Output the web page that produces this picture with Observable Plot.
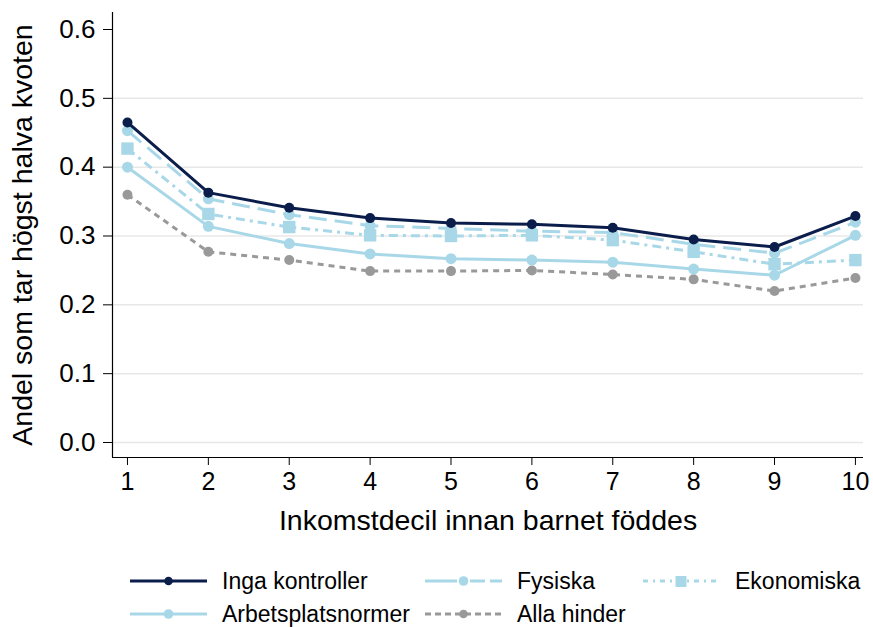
<!DOCTYPE html>
<html>
<head>
<meta charset="utf-8">
<script src="https://cdn.jsdelivr.net/npm/d3@7"></script>
<script src="https://cdn.jsdelivr.net/npm/@observablehq/plot@0.6"></script>
<style>
  body { margin: 0; background: #fff; font-family: "Liberation Sans", Arial, sans-serif; }
  #wrap { position: relative; width: 873px; height: 627px; }
  .leg { position: absolute; display: flex; align-items: center; font-size: 23px; color: #000; white-space: nowrap; }
  .leg svg { margin-right: 15px; }
</style>
</head>
<body>
<div id="wrap"><div id="chart"></div></div>
<script>
const deciles = [1, 2, 3, 4, 5, 6, 7, 8, 9, 10];
const ingaKontroller   = [0.465, 0.363, 0.341, 0.326, 0.319, 0.317, 0.312, 0.295, 0.284, 0.329];
const fysiska          = [0.453, 0.354, 0.331, 0.315, 0.311, 0.307, 0.305, 0.288, 0.275, 0.320];
const ekonomiska       = [0.427, 0.332, 0.313, 0.301, 0.300, 0.301, 0.294, 0.277, 0.259, 0.265];
const arbetsplatsnormer= [0.400, 0.314, 0.289, 0.274, 0.267, 0.265, 0.262, 0.252, 0.243, 0.301];
const allaHinder       = [0.360, 0.277, 0.265, 0.249, 0.249, 0.250, 0.244, 0.237, 0.220, 0.239];
const yTicks = [0, 0.1, 0.2, 0.3, 0.4, 0.5, 0.6];
const yTitle = "Andel som tar högst halva kvoten";
const xTitle = "Inkomstdecil innan barnet föddes";

const series = [
  {name: "Alla hinder", values: allaHinder, color: "#999999", dash: "6,5", symbol: "circle", r: 5},
  {name: "Arbetsplatsnormer", values: arbetsplatsnormer, color: "#a8d8e8", dash: null, symbol: "circle", r: 5.5},
  {name: "Ekonomiska", values: ekonomiska, color: "#a8d8e8", dash: "9,5,3,5", symbol: "square", r: 7},
  {name: "Fysiska", values: fysiska, color: "#a8d8e8", dash: "18,8", symbol: "circle", r: 5.5},
  {name: "Inga kontroller", values: ingaKontroller, color: "#0b1d4a", dash: null, symbol: "circle", r: 5}
];

const marks = [
  Plot.gridY(yTicks.slice(0, 6), {stroke: "#e8e8e8", strokeOpacity: 1, strokeWidth: 1.5}),
  Plot.ruleX([0.815], {stroke: "#000", strokeWidth: 1.2}),
  Plot.ruleY([-0.0218], {stroke: "#000", strokeWidth: 1.2}),
  Plot.axisY(yTicks, {tickFormat: d3.format(".1f"), fontSize: 26, tickSize: 9, tickPadding: 8, label: null, stroke: "#000"}),
  Plot.axisX(deciles, {tickFormat: d => String(d), fontSize: 25, tickSize: 8, tickPadding: 7, label: null}),
  Plot.text([yTitle], {frameAnchor: "left", rotate: -90, dx: -90, fontSize: 28.5, textAnchor: "middle", lineAnchor: "middle"}),
  Plot.text([xTitle], {frameAnchor: "bottom", dy: 63, fontSize: 28.5, textAnchor: "middle", lineAnchor: "middle"})
];
for (const s of series) {
  const data = deciles.map((d, i) => ({x: d, y: s.values[i]}));
  marks.push(Plot.line(data, {x: "x", y: "y", stroke: s.color, strokeWidth: 3, strokeDasharray: s.dash, strokeLinecap: "butt"}));
  marks.push(Plot.dot(data, {x: "x", y: "y", fill: s.color, r: s.r, symbol: s.symbol}));
}

const chart = Plot.plot({
  width: 873,
  height: 560,
  marginLeft: 112,
  marginRight: 10,
  marginTop: 12,
  marginBottom: 103,
  style: {fontFamily: "Liberation Sans, Arial, sans-serif", color: "#000", background: "#fff"},
  x: {domain: [0.815, 10.1]},
  y: {domain: [-0.0218, 0.6247]},
  marks
});
document.getElementById("chart").appendChild(chart);

// legend
const legendPos = {
  "Inga kontroller": [130, 581],
  "Fysiska": [425, 581],
  "Ekonomiska": [643, 581],
  "Arbetsplatsnormer": [130, 614],
  "Alla hinder": [425, 614]
};
const legendDash = {"Fysiska": "32,13,15,5", "Ekonomiska": "5,5,2,5", "Alla hinder": "6,4"};
const wrap = document.getElementById("wrap");
for (const s of series) {
  const [lx, ly] = legendPos[s.name];
  const div = document.createElement("div");
  div.className = "leg";
  div.style.left = lx + "px";
  div.style.top = (ly - 14) + "px";
  div.style.height = "28px";
  const w = 77;
  const dash = legendDash[s.name];
  let marker;
  if (s.symbol === "square") marker = `<rect x="${w/2-6}" y="9" width="11" height="11" fill="${s.color}"/>`;
  else marker = `<circle cx="${w/2}" cy="14" r="${s.r - 0.7}" fill="${s.color}"/>`;
  div.innerHTML = `<svg width="${w}" height="28"><line x1="0" x2="${w}" y1="14" y2="14" stroke="${s.color}" stroke-width="3" ${dash ? `stroke-dasharray="${dash}"` : ""}/>${marker}</svg><span>${s.name}</span>`;
  wrap.appendChild(div);
}
</script>
</body>
</html>
